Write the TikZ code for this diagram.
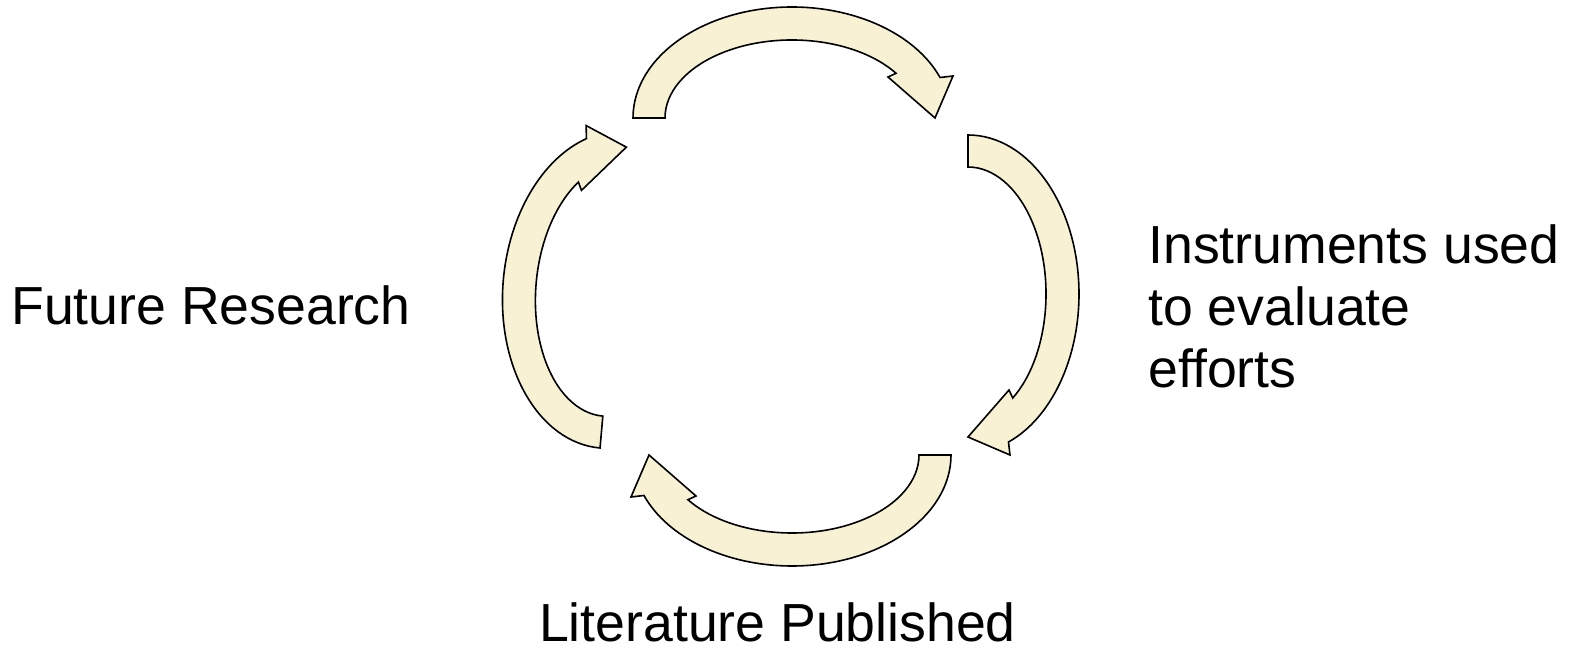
\documentclass[tikz,border=0pt]{standalone}
\usepackage{fontspec}
\setmainfont{Liberation Sans}
\usepackage{tikz}
\definecolor{arrowfill}{HTML}{F8F1D3}
\tikzset{
    curved/.style={draw=black,fill=arrowfill,line width=0.8pt,line join=miter},
    phase/.style={font=\fontsize{26.8}{31}\selectfont,inner sep=0pt},
    bent arrow/.pic={
        \path[curved] (-159,0) arc[start angle=180,end angle=338.6,x radius=159,y radius=111]
            -- (161,-42) -- (143,0) -- (96,-41) -- (104.03,-44.74)
            arc[start angle=325,end angle=180,x radius=127,y radius=78] -- cycle;
    },
}
\begin{document}
\begin{tikzpicture}[x=0.5pt,y=-0.5pt]
    \useasboundingbox (0,0) rectangle (1570,651);
    % the four arrows of the cycle
    \pic at (792,118) {bent arrow};
    \pic[rotate=-90] at (968,294) {bent arrow};
    \pic[rotate=180] at (792,455) {bent arrow};
    \pic[rotate=85] at (613.9,289.6) {bent arrow};

    \node[phase,anchor=base west] (future) at (11,325) {Future Research};
    \node[phase,anchor=north west,align=left] (instruments) at (1148,224) {Instruments used\\to evaluate\\efforts};
    \node[phase,anchor=base] (literature) at (777.5,642) {Literature Published};
\end{tikzpicture}
\end{document}
